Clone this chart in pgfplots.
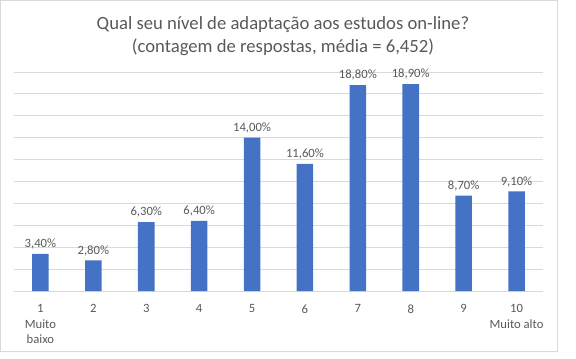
\documentclass[border=0pt]{standalone}
\usepackage{fontspec}
\setmainfont{Carlito}
\usepackage{pgfplots}
\pgfplotsset{compat=1.18}
\definecolor{barblue}{HTML}{4472C4}
\definecolor{txtgray}{HTML}{595959}
\definecolor{gridgray}{HTML}{D9D9D9}
\begin{document}
\begin{tikzpicture}
\path[use as bounding box] (0,0) rectangle (432pt,268.5pt);
\draw[gridgray, line width=0.75pt] (0.4pt,5.25pt) rectangle (417.75pt,268.1pt);
\node[font=\fontsize{14pt}{17.25pt}\selectfont, text=txtgray, align=center] at (212.25pt,241.1pt)
  {Qual seu nível de adaptação aos estudos on-line?\\(contagem de respostas, média = 6,452)};
\begin{axis}[
  at={(10.5pt,50.25pt)}, anchor=south west,
  scale only axis, width=396.75pt, height=164.25pt,
  xmin=0.5, xmax=10.5, ymin=0, ymax=20,
  ytick={0,2,...,20}, yticklabels={},
  ymajorgrids, grid style={gridgray, line width=0.75pt},
  axis x line*=bottom, axis y line*=left,
  y axis line style={draw=none},
  x axis line style={gridgray, line width=0.75pt, -},
  major tick length=0,
  /pgf/number format/assume math mode=true,
  xtick={1,...,10},
  xticklabels={{1\\Muito\\baixo},2,3,4,5,6,7,8,9,{10\\Muito alto}},
  xticklabel style={align=center, font=\fontsize{9.5pt}{11.6pt}\selectfont, text=txtgray, yshift=-6.75pt},
  ybar, bar width=12.4pt,
  nodes near coords={\pgfmathprintnumber[fixed,fixed zerofill,precision=2,use comma]{\pgfplotspointmeta}\%},
  nodes near coords style={font=\fontsize{9.5pt}{11pt}\selectfont, text=txtgray},
  clip=false,
]
\addplot[fill=barblue, draw=none] coordinates {
(1,3.4) (2,2.8) (3,6.3) (4,6.4) (5,14.0) (6,11.6) (7,18.8) (8,18.9) (9,8.7) (10,9.1)};
\end{axis}
\end{tikzpicture}
\end{document}
